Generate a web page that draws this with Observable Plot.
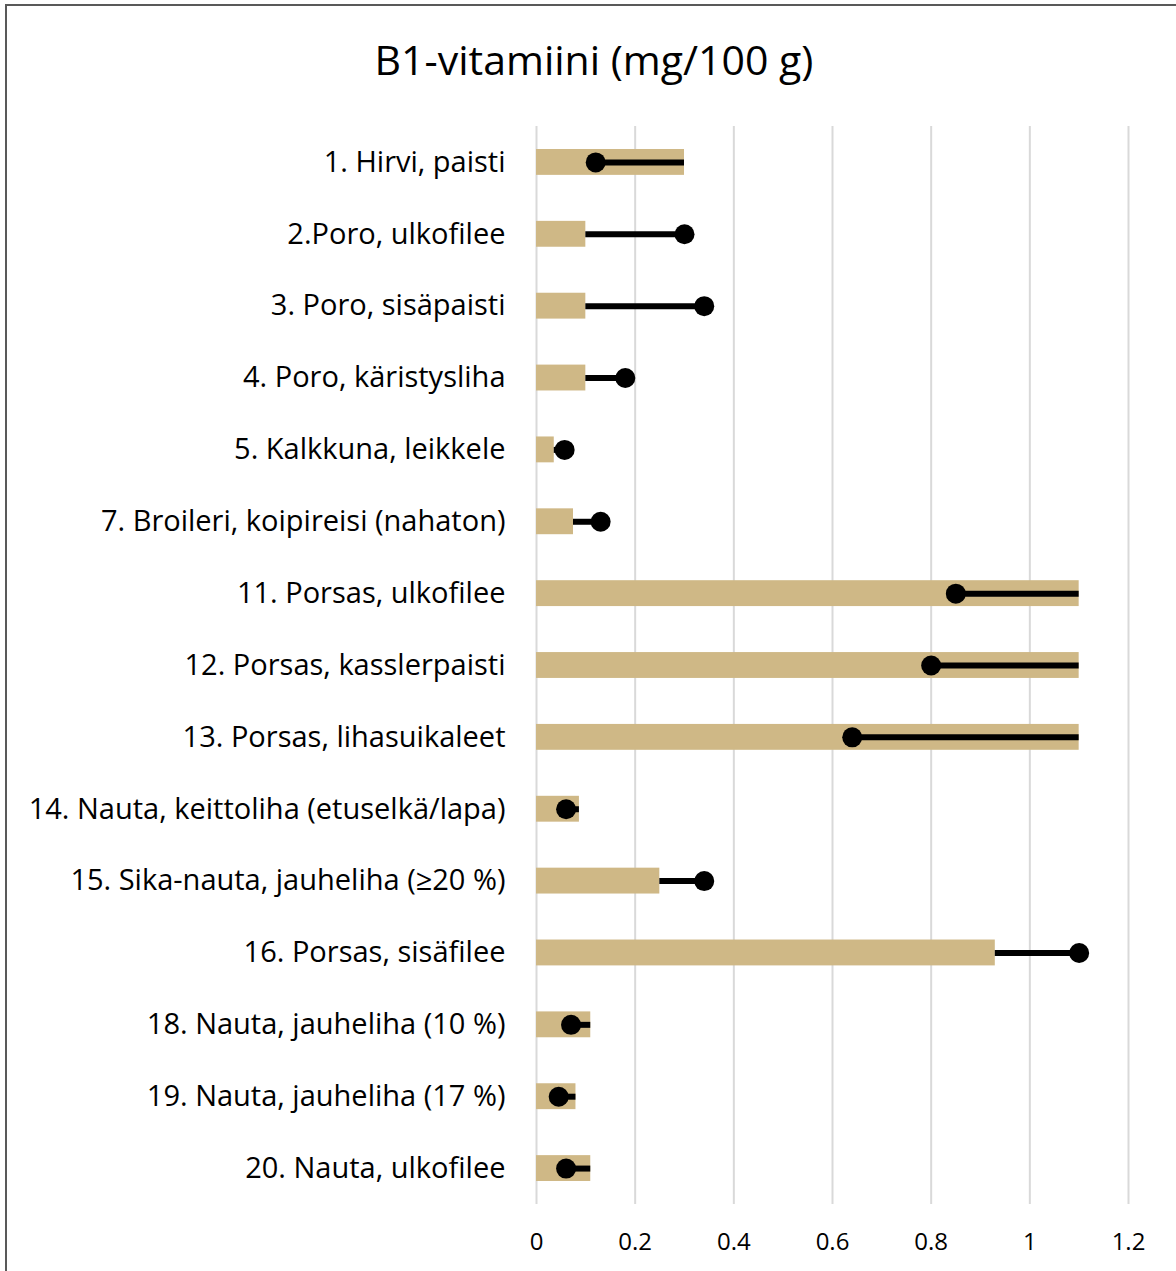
<!DOCTYPE html>
<html>
<head>
<meta charset="utf-8">
<script src="https://cdn.jsdelivr.net/npm/d3@7"></script>
<script src="https://cdn.jsdelivr.net/npm/@observablehq/plot@0.6"></script>
<style>
  html, body { margin: 0; padding: 0; background: #fff; }
  #page { position: relative; width: 1176px; height: 1271px; overflow: hidden; font-family: "Open Sans", Lato, sans-serif; font-variant-ligatures: none; }
  #frame { position: absolute; left: 5px; top: 4px; width: 1180px; height: 1280px; border-left: 2px solid #595959; border-top: 2px solid #595959; box-sizing: border-box; }
  #title { position: absolute; left: 0; top: 0; width: 1188px; height: 110px; text-align: center; line-height: 118px; font-size: 41px; color: #000; }
  #chart { position: absolute; left: 0; top: 110px; }
  #chart svg text { font-variant-ligatures: none; }
</style>
</head>
<body>
<div id="page">
  <div id="frame"></div>
  <div id="title">B1-vitamiini (mg/100 g)</div>
  <div id="chart"></div>
</div>
<script>
const categories = [
  "1. Hirvi, paisti",
  "2.Poro, ulkofilee",
  "3. Poro, sisäpaisti",
  "4. Poro, käristysliha",
  "5. Kalkkuna, leikkele",
  "7. Broileri, koipireisi (nahaton)",
  "11. Porsas, ulkofilee",
  "12. Porsas, kasslerpaisti",
  "13. Porsas, lihasuikaleet",
  "14. Nauta, keittoliha (etuselkä/lapa)",
  "15. Sika-nauta, jauheliha (≥20 %)",
  "16. Porsas, sisäfilee",
  "18. Nauta, jauheliha (10 %)",
  "19. Nauta, jauheliha (17 %)",
  "20. Nauta, ulkofilee"
];
const barValues = [0.30, 0.10, 0.10, 0.10, 0.036, 0.075, 1.10, 1.10, 1.10, 0.087, 0.25, 0.93, 0.11, 0.08, 0.11];
const dotValues = [0.12, 0.30, 0.34, 0.18, 0.057, 0.13, 0.85, 0.80, 0.64, 0.06, 0.34, 1.10, 0.07, 0.045, 0.06];
const xTicks = [0, 0.2, 0.4, 0.6, 0.8, 1, 1.2];

const rows = categories.map((c, i) => ({cat: c, bar: barValues[i], dot: dotValues[i]}));

const chart = Plot.plot({
  width: 1176,
  height: 1161,
  marginTop: 16,
  marginBottom: 67,
  marginLeft: 536,
  marginRight: 48,
  style: {fontFamily: "'Open Sans', Lato, sans-serif", color: "#000", background: "transparent"},
  x: {domain: [0, 1.2], ticks: xTicks, round: false},
  y: {domain: categories, paddingInner: 0.64, paddingOuter: 0.32, round: false},
  marks: [
    Plot.gridX(xTicks, {stroke: "#d9d9d9", strokeOpacity: 1, strokeWidth: 2}),
    Plot.barX(rows, {x: "bar", y: "cat", fill: "#cfb886"}),
    Plot.ruleY(rows, {x1: "bar", x2: "dot", y: "cat", stroke: "#000", strokeWidth: 6}),
    Plot.dot(rows, {x: "dot", y: "cat", r: 10, fill: "#000", stroke: "none"}),
    Plot.axisY({tickSize: 0, tickPadding: 31, fontSize: 29, label: null}),
    Plot.axisX({ticks: xTicks, tickSize: 0, tickPadding: 28, fontSize: 24, label: null, tickFormat: d => String(+d.toFixed(1))})
  ]
});
document.getElementById("chart").appendChild(chart);
</script>
</body>
</html>
